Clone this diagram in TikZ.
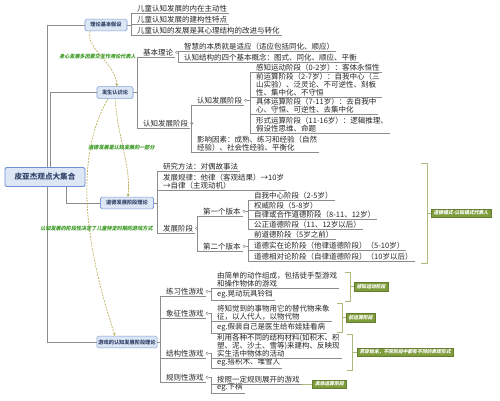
\documentclass[tikz,border=0pt]{standalone}
\usepackage{fontspec}
\setmainfont{Noto Sans CJK SC}
\newfontfamily\slfont[FakeSlant=0.2]{Noto Sans CJK SC}
\usetikzlibrary{arrows.meta}
\definecolor{linec}{HTML}{8C8C8C}
\definecolor{boxfill}{HTML}{DCE6F5}
\definecolor{boxdraw}{HTML}{7F9FD6}
\definecolor{tagfill}{HTML}{7E9C3C}
\definecolor{tagline}{HTML}{A9BC7C}
\definecolor{relc}{HTML}{B3A445}
\definecolor{relt}{HTML}{3A9A22}
\definecolor{txt}{HTML}{262626}
\definecolor{roottxt}{HTML}{34456A}
\tikzset{
 conn/.style={draw=linec, line width=0.5pt},
 leaf/.style={anchor=south west, inner xsep=0.5pt, inner ysep=1pt, align=left, text=txt, font=\fontsize{7.5}{8}\selectfont},
 mainbox/.style={draw=boxdraw, fill=boxfill, rounded corners=1.5pt, line width=0.6pt, inner xsep=1.5pt, minimum height=11pt, font=\fontsize{5.2}{6}\selectfont\bfseries, text=roottxt},
 rootbox/.style={draw=boxdraw!90!blue, fill=boxfill, rounded corners=2pt, line width=0.9pt, minimum width=80pt, minimum height=19pt, font=\fontsize{7.6}{8}\selectfont\bfseries, text=roottxt},
 tagbox/.style={fill=tagfill, draw=tagfill!80!black, line width=0.3pt, inner xsep=2.5pt, inner ysep=1.2pt, minimum height=8.5pt, font=\fontsize{4.8}{5}\selectfont\slfont\bfseries, text=white},
 tagbr/.style={draw=tagline, line width=0.7pt},
 rel/.style={draw=relc, dash pattern=on 1.8pt off 1.2pt, line width=0.6pt, -{Stealth[length=3pt,width=2.6pt]}},
 rellabel/.style={font=\fontsize{5.1}{5.5}\selectfont\slfont\bfseries, text=relt, inner sep=0.5pt},
 knob/.style={draw=linec, fill=white, circle, inner sep=0pt, minimum size=2.6pt, line width=0.4pt},
}
\newcommand\mmbrk[3]{%
  \coordinate (bt) at ([xshift=-5.5pt]#2.south west);
  \coordinate (bb) at ([xshift=-5.5pt]#3.south west);
  \coordinate (bp) at (#1 -| bt);
  \draw[conn] (#1) -- (bp);
  \draw[conn] (bt) -- (bb);
  \draw[conn] (bp) -- (bt);
  \draw[conn] (bp) -- (bb);
}
\begin{document}
\begin{tikzpicture}[x=1pt,y=-1pt]
\fill[white] (0,0) rectangle (500,400);
\useasboundingbox (0,0) rectangle (500,400);

% main boxes
\node[rootbox] (root) at (45,177) {皮亚杰观点大集合};
\node[mainbox, minimum width=42pt] (box1) at (106,25) {理论基本假设};
\node[mainbox, minimum width=36pt] (box2) at (115,92.5) {发生认识论};
\node[mainbox, minimum width=53pt] (box3) at (127,203) {道德发展阶段理论};
\node[mainbox, minimum width=58pt] (box4) at (127,342) {游戏的认知发展阶段理论};

% root connectors
\draw[conn] ([xshift=2pt]root.north) |- (box1.west);
\draw[conn] ([xshift=5pt]root.north) |- (box2.west);
\draw[conn] ([xshift=21pt]root.south) |- (box3.west);
\draw[conn] ([xshift=2pt]root.south) |- (box4.west);

% branch 1
\node[leaf] (a1) at (136.5,13) {儿童认知发展的内在主动性};
\node[leaf] (a2) at (136.5,24) {儿童认知发展的建构性特点};
\node[leaf] (a3) at (136.5,35) {儿童认知的发展是其心理结构的改进与转化};

% branch 2
\node[leaf] (b1) at (142.5,57) {基本理论};
\node[leaf] (b11) at (183.5,51) {智慧的本质就是适应（适应包括同化、顺应）};
\node[leaf] (b12) at (183.5,62) {认知结构的四个基本概念：图式、同化、顺应、平衡};
\node[leaf] (b2) at (142.5,128) {认知发展阶段};
\node[leaf] (b21) at (196.5,105) {认知发展阶段};
\node[leaf] (s1) at (255.5,72) {感知运动阶段（0-2岁）：客体永恒性};
\node[leaf] (s2) at (255.5,97) {前运算阶段（2-7岁）：自我中心（三\\山实验）、泛灵论、不可逆性、刻板\\性、集中化、不守恒};
\node[leaf] (s3) at (255.5,114) {具体运算阶段（7-11岁）：去自我中\\心、守恒、可逆性、去集中化};
\node[leaf] (s4) at (255.5,133) {形式运算阶段（11-16岁）：逻辑推理、\\假设性思维、命题};
\node[leaf] (b22) at (196.5,152) {影响因素：成熟、练习和经验（自然\\经验）、社会性经验、平衡化};

% branch 3
\node[leaf] (c1) at (162.5,171) {研究方法：对偶故事法};
\node[leaf] (c2) at (162.5,190) {发展规律：他律（客观结果）→10岁\\→自律（主观动机）};
\node[leaf] (c3) at (162.5,233) {发展阶段};
\node[leaf] (c31) at (202.5,216) {第一个版本};
\node[leaf] (c32) at (202.5,251) {第二个版本};
\node[leaf] (m1) at (253.5,200) {自我中心阶段（2-5岁）};
\node[leaf] (m2) at (253.5,210) {权威阶段（5-8岁）};
\node[leaf] (m3) at (253.5,219.5) {自律或合作道德阶段（8-11、12岁）};
\node[leaf] (m4) at (253.5,229) {公正道德阶段（11、12岁以后）};
\node[leaf] (m5) at (253.5,239) {前道德阶段（5岁之前）};
\node[leaf] (m6) at (253.5,250) {道德实在论阶段（他律道德阶段）（5-10岁）};
\node[leaf] (m7) at (253.5,261) {道德相对论阶段（自律道德阶段）（10岁以后）};

% branch 4
\node[leaf] (d1) at (165.5,296) {练习性游戏};
\node[leaf] (d11) at (216.5,288) {由简单的动作组成，包括徒手型游戏\\和操作物体的游戏};
\node[leaf] (d12) at (216.5,300) {eg.晃动玩具铃铛};
\node[leaf] (d2) at (165.5,318) {象征性游戏};
\node[leaf] (d21) at (216.5,321) {将知觉到的事物用它的替代物来象\\征，以人代人，以物代物};
\node[leaf] (d22) at (216.5,333) {eg.假装自己是医生给布娃娃看病};
\node[leaf] (d3) at (165.5,358) {结构性游戏};
\node[leaf] (d31) at (216.5,358) {利用各种不同的结构材料(如积木、积\\塑、泥、沙土、雪等)来建构、反映现\\实生活中物体的活动};
\node[leaf] (d32) at (216.5,368) {eg.搭积木、堆雪人};
\node[leaf] (d4) at (165.5,382) {规则性游戏};
\node[leaf] (d41) at (216.5,384) {按照一定规则展开的游戏};
\node[leaf] (d42) at (216.5,393) {eg.下棋};

% underlines
\foreach \n in {a1,a2,a3,b1,b11,b12,b2,b21,s1,s2,s3,s4,b22,c1,c2,c3,c31,c32,m1,m2,m3,m4,m5,m6,m7,d1,d11,d12,d2,d21,d22,d3,d31,d32,d4,d41,d42}
  \draw[conn] ([xshift=-5.5pt]\n.south west) -- ([xshift=1.5pt]\n.south east);

% knobs
\foreach \n in {b1,b2,b21,c3,c31,c32,d1,d2,d3,d4}
  \node[knob] (k\n) at ([xshift=2.8pt]\n.east) {};

% brackets
\mmbrk{box1.east}{a1}{a3}
\mmbrk{box2.east}{b1}{b2}
\mmbrk{kb1.east}{b11}{b12}
\mmbrk{kb2.east}{b21}{b22}
\mmbrk{kb21.east}{s1}{s4}
\mmbrk{box3.east}{c1}{c3}
\mmbrk{kc3.east}{c31}{c32}
\mmbrk{kc31.east}{m1}{m4}
\mmbrk{kc32.east}{m5}{m7}
\mmbrk{box4.east}{d1}{d4}
\mmbrk{kd1.east}{d11}{d12}
\mmbrk{kd2.east}{d21}{d22}
\mmbrk{kd3.east}{d31}{d32}
\mmbrk{kd4.east}{d41}{d42}

% green tags
\node[tagbox, anchor=west] (t1) at (431,213) {道德模式-认知模式代表人};
\node[tagbox, anchor=west] (t2) at (354,286.5) {感知运动阶段};
\node[tagbox, anchor=west] (t3) at (346,317.5) {前运算阶段};
\node[tagbox, anchor=west] (t4) at (357,352) {贯穿始末，不同阶段中都有不同的表现形式};
\node[tagbox, anchor=west] (t5) at ([xshift=12pt]d41.south east) {具体运算阶段};

\coordinate (t1a) at (421,163); \coordinate (t1b) at (427,163);
\coordinate (t1c) at (427,263); \coordinate (t1d) at (421,263);
\coordinate (t1m) at (427,213);
\draw[tagbr] (t1a) -- (t1b) -- (t1c) -- (t1d);
\draw[tagbr] (t1m) -- (t1.west);

\coordinate (t2a) at (345,272); \coordinate (t2b) at (350,272);
\coordinate (t2c) at (350,301); \coordinate (t2d) at (345,301);
\coordinate (t2m) at (350,286.5);
\draw[tagbr] (t2a) -- (t2b) -- (t2c) -- (t2d);
\draw[tagbr] (t2m) -- (t2.west);

\coordinate (t3a) at (337,303); \coordinate (t3b) at (342,303);
\coordinate (t3c) at (342,332); \coordinate (t3d) at (337,332);
\coordinate (t3m) at (342,317.5);
\draw[tagbr] (t3a) -- (t3b) -- (t3c) -- (t3d);
\draw[tagbr] (t3m) -- (t3.west);

\coordinate (t4a) at (347,334); \coordinate (t4b) at (352,334);
\coordinate (t4c) at (352,370); \coordinate (t4d) at (347,370);
\coordinate (t4m) at (352,352);
\draw[tagbr] (t4a) -- (t4b) -- (t4c) -- (t4d);
\draw[tagbr] (t4m) -- (t4.west);

\draw[tagbr] ([xshift=1.5pt]d41.south east) -- (t5.west);

% relationships
\draw[rel] ([xshift=-16pt]box1.south) .. controls (86,50) and (115,62) .. ([xshift=2pt]box2.north);
\draw[rel] (box2.south) .. controls (118,140) and (131,165) .. ([xshift=1pt]box3.north);
\draw[rel] ([xshift=-7pt]box2.south) .. controls (70,165) and (90,260) .. ([xshift=-12pt]box4.north);
\node[rellabel] (l1) at (97.5,57) {身心发展多因素交互作用论代表人};
\node[rellabel] (l2) at (121.5,148) {道德发展是认知发展的一部分};
\node[rellabel] (l3) at (96.5,229) {认知发展的阶段性决定了儿童特定时期的游戏方式};
\end{tikzpicture}
\end{document}
